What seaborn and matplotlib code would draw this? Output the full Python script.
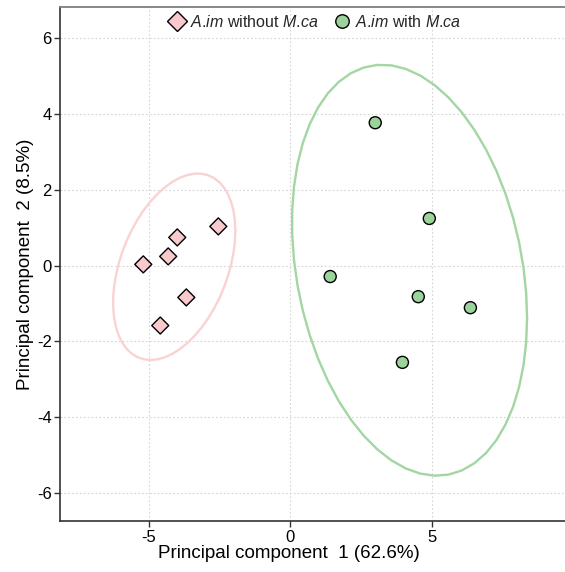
import numpy as np
import pandas as pd
import matplotlib
matplotlib.use('Agg')
import matplotlib.pyplot as plt
import seaborn as sns

# PCA scores
lbl_without = r'$\mathit{A}$.$\mathit{im}$ without $\mathit{M}$.$\mathit{ca}$'
lbl_with = r'$\mathit{A}$.$\mathit{im}$ with $\mathit{M}$.$\mathit{ca}$'
pc1_without = [-5.19, -3.99, -4.31, -2.54, -3.67, -4.59]
pc2_without = [0.03, 0.74, 0.24, 1.03, -0.84, -1.58]
pc1_with = [3.00, 4.91, 1.41, 4.52, 6.36, 3.96]
pc2_with = [3.76, 1.24, -0.29, -0.82, -1.11, -2.55]

colors = {lbl_without: '#F9C9CE', lbl_with: '#9BD39B'}
ellipse_colors = {lbl_without: '#F9D3D3', lbl_with: '#A2D6A2'}
markers = {lbl_without: 'D', lbl_with: 'o'}

df = pd.DataFrame({
    'PC1': pc1_without + pc1_with,
    'PC2': pc2_without + pc2_with,
    'group': [lbl_without] * len(pc1_without) + [lbl_with] * len(pc1_with),
})

sns.set_theme(style='white')
plt.rcParams['font.family'] = ['Liberation Sans', 'DejaVu Sans']
plt.rcParams['mathtext.fontset'] = 'custom'
plt.rcParams['mathtext.rm'] = 'Liberation Sans'
plt.rcParams['mathtext.it'] = 'Liberation Sans:italic'
plt.rcParams['axes.unicode_minus'] = False


def cov_trob(x, nu=5, maxit=25, tol=0.01):
    # t-distribution robust covariance (like MASS::cov.trob)
    n, p = x.shape
    wt = np.ones(n)
    loc = x.mean(axis=0)
    w = np.sqrt(wt)
    for _ in range(maxit):
        w0 = w
        X = x - loc
        _, d, vt = np.linalg.svd(np.sqrt(w / w.sum())[:, None] * X, full_matrices=False)
        wX = X @ vt.T @ np.diag(1 / d)
        Q = (wX ** 2).sum(axis=1)
        w = (wt * (nu + p)) / (nu + Q)
        loc = (w[:, None] * x).sum(axis=0) / w.sum()
        if np.all(np.abs(w - w0) < tol):
            break
    sx = np.sqrt(w)[:, None] * X
    return sx.T @ sx / wt.sum(), loc


def ellipse_points(x, level=0.915, segments=51):
    n = len(x)
    cov, center = cov_trob(x)
    dfn, dfd = 2, n - 1
    fq = dfd / 2 * ((1 - level) ** (-2 / dfd) - 1)
    radius = np.sqrt(dfn * fq)
    R = np.linalg.cholesky(cov).T
    ang = np.linspace(0, 2 * np.pi, segments + 1)
    circ = np.column_stack([np.cos(ang), np.sin(ang)])
    return center + radius * (circ @ R)


fig = plt.figure(figsize=(5.65, 5.72), dpi=100)
ax = fig.add_axes([0.1062, 0.0883, 0.8938 + 0.01, 0.9003])

for g, sub in df.groupby('group'):
    pts = ellipse_points(sub[['PC1', 'PC2']].to_numpy())
    ax.plot(pts[:, 0], pts[:, 1], color=ellipse_colors[g], lw=1.7, zorder=2)

sns.scatterplot(data=df, x='PC1', y='PC2', hue='group', style='group',
                hue_order=[lbl_without, lbl_with], style_order=[lbl_without, lbl_with],
                palette=colors, markers=markers, s=75, edgecolor='black',
                linewidth=1.0, ax=ax, zorder=3)

ax.set_xlim(-8.13, 9.9)
ax.set_ylim(-6.74, 6.82)
ax.set_xticks([-5, 0, 5])
ax.set_yticks([-6, -4, -2, 0, 2, 4, 6])
ax.grid(True, linestyle=(0, (1.5, 2)), color='#D5D5D5', linewidth=0.8)
ax.set_axisbelow(True)

for s in ['left', 'bottom']:
    ax.spines[s].set_color('#333333')
    ax.spines[s].set_linewidth(1.2)
ax.spines['top'].set_color('#7F7F7F')
ax.spines['top'].set_linewidth(1.3)
ax.spines['right'].set_visible(False)

ax.tick_params(axis='both', direction='out', length=4, width=1, color='#333333',
               labelsize=12, labelcolor='black', pad=2, bottom=True, left=True)

ax.set_xlabel('Principal component  1 (62.6%)', fontsize=13.5, color='black', labelpad=0)
ax.set_ylabel('Principal component  2 (8.5%)', fontsize=13.5, color='black', labelpad=2)
ax.xaxis.set_label_coords(0.448, -0.046, transform=ax.transAxes)
ax.xaxis.label.set_va('top')

sns.move_legend(ax, 'upper center', bbox_to_anchor=(0.5, 0.998), ncol=2, frameon=False,
                title=None, fontsize=11.5, handletextpad=0.3, handlelength=1.0,
                columnspacing=1.0, borderaxespad=0.0, markerscale=1.12)

fig.savefig('out.png', dpi=100)
